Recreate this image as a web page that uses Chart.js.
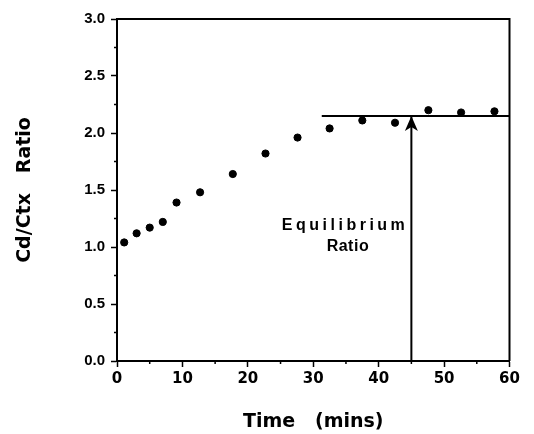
<!DOCTYPE html>
<html>
<head>
<meta charset="utf-8">
<script src="https://cdn.jsdelivr.net/npm/chart.js@4"></script>
<style>
  body { margin: 0; background: #fff; }
</style>
</head>
<body>
<canvas id="ratioChart" width="534" height="434"></canvas>
<script>
// measured values
let times = [1.1, 3.0, 5.0, 7.0, 9.1, 12.7, 17.7, 22.7, 27.6, 32.5, 37.5, 42.5, 47.6, 52.6, 57.7];
let ratios = [1.04, 1.12, 1.17, 1.22, 1.39, 1.48, 1.64, 1.82, 1.96, 2.04, 2.11, 2.09, 2.20, 2.18, 2.19];
let equilibrium = 2.15;
let eqLineX = [31.3, 60];
let arrowX = 45;
let yTicks = [0, 0.5, 1.0, 1.5, 2.0, 2.5, 3.0];
let xTicks = [0, 10, 20, 30, 40, 50, 60];

document.addEventListener("DOMContentLoaded", () => {
    initChart(document.getElementById("ratioChart"));
});

// frame, minor ticks, arrowhead and note text
const extras = {
    id: "extras",
    afterDatasetsDraw(chart) {
        let ctx = chart.ctx;
        let a = chart.chartArea;
        let xs = chart.scales.x, ys = chart.scales.y;
        ctx.save();
        ctx.strokeStyle = "#000";
        ctx.lineWidth = 2;
        ctx.beginPath();
        ctx.moveTo(a.left, a.top);
        ctx.lineTo(a.right, a.top);
        ctx.lineTo(a.right, a.bottom);
        ctx.stroke();

        // minor ticks
        ctx.lineWidth = 1.5;
        ctx.beginPath();
        for (let i = 0; i < yTicks.length - 1; i++) {
            let py = ys.getPixelForValue((yTicks[i] + yTicks[i + 1]) / 2);
            ctx.moveTo(a.left - 3, py);
            ctx.lineTo(a.left, py);
        }
        for (let i = 0; i < xTicks.length - 1; i++) {
            let px = xs.getPixelForValue((xTicks[i] + xTicks[i + 1]) / 2);
            ctx.moveTo(px, a.bottom);
            ctx.lineTo(px, a.bottom + 3);
        }
        ctx.stroke();

        // arrowhead
        let tx = xs.getPixelForValue(arrowX);
        let ty = ys.getPixelForValue(equilibrium);
        ctx.fillStyle = "#000";
        ctx.beginPath();
        ctx.moveTo(tx, ty);
        ctx.lineTo(tx + 6.5, ty + 15);
        ctx.lineTo(tx, ty + 11);
        ctx.lineTo(tx - 6.5, ty + 15);
        ctx.closePath();
        ctx.fill();

        // label
        ctx.textAlign = "center";
        ctx.textBaseline = "middle";
        ctx.font = "bold 16px 'Liberation Sans', Arial, sans-serif";
        ctx.letterSpacing = "3.5px";
        ctx.fillText("Equilibrium", xs.getPixelForValue(34.6) + 1.75, ys.getPixelForValue(1.19));
        ctx.letterSpacing = "0.5px";
        ctx.fillText("Ratio", xs.getPixelForValue(35.3), ys.getPixelForValue(1.0));
        ctx.restore();
    }
};

function initChart(canvas) {
    let points = times.map((t, i) => ({ x: t, y: ratios[i] }));

    let chartData = {
        datasets: [{
            type: "scatter",
            data: points,
            backgroundColor: "#000",
            borderColor: "#000",
            pointRadius: 3.6,
            pointHoverRadius: 3.6
        }, {
            type: "line",
            data: eqLineX.map(x => ({ x: x, y: equilibrium })),
            borderColor: "#000",
            borderWidth: 2,
            pointRadius: 0,
            fill: false
        }, {
            type: "line",
            data: [{ x: arrowX, y: 0 }, { x: arrowX, y: equilibrium }],
            borderColor: "#000",
            borderWidth: 2,
            pointRadius: 0,
            fill: false
        }]
    };

    let chartOptions = {
        responsive: false,
        animation: false,
        layout: { padding: { top: 19, right: 24.5, left: 0, bottom: 0 } },
        plugins: {
            legend: { display: false },
            tooltip: { enabled: false }
        },
        scales: {
            x: {
                type: "linear",
                min: 0,
                max: 60,
                afterFit: s => { s.height = 73; },
                border: { color: "#000", width: 2 },
                grid: { drawOnChartArea: false, color: "#000", tickLength: 6, tickWidth: 1.5 },
                ticks: {
                    stepSize: 10,
                    color: "#000",
                    padding: 3,
                    font: { family: "'DejaVu Sans'", size: 15, weight: "bold" }
                },
                title: {
                    display: true,
                    text: "Time   (mins)",
                    color: "#000",
                    padding: { top: 0, bottom: 1 },
                    font: { family: "'DejaVu Sans'", size: 19, weight: "bold" }
                }
            },
            y: {
                min: 0,
                max: 3,
                afterFit: s => { s.width = 117; },
                border: { color: "#000", width: 2 },
                grid: { drawOnChartArea: false, color: "#000", tickLength: 6, tickWidth: 1.5 },
                ticks: {
                    stepSize: 0.5,
                    color: "#000",
                    padding: 6,
                    callback: v => v.toFixed(1),
                    font: { family: "'Liberation Sans'", size: 15, weight: "bold" }
                },
                title: {
                    display: true,
                    text: "Cd/Ctx   Ratio",
                    color: "#000",
                    padding: { top: 13.5, bottom: 0 },
                    font: { family: "'DejaVu Sans'", size: 19, weight: "bold" }
                }
            }
        }
    };

    new Chart(canvas, {
        data: chartData,
        options: chartOptions,
        plugins: [extras]
    });
}
</script>
</body>
</html>
